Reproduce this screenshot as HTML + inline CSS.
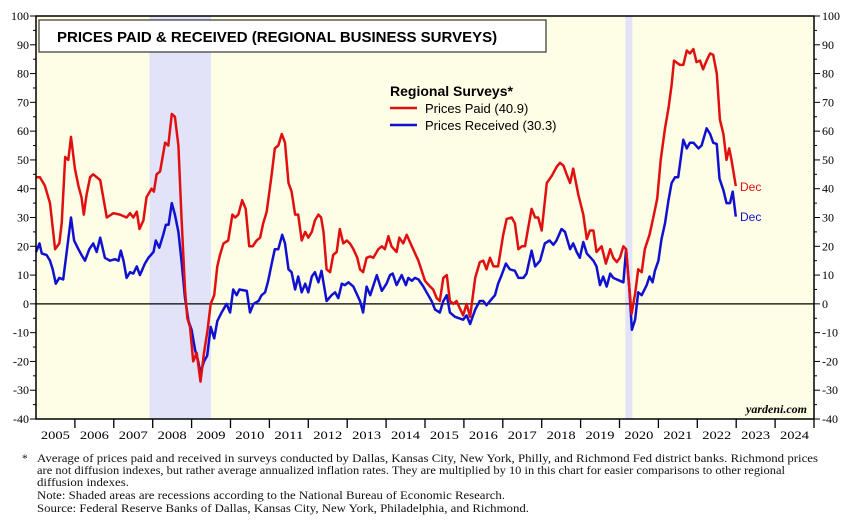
<!DOCTYPE html>
<html><head><meta charset="utf-8"><style>
body{margin:0;background:#fff;}
svg{display:block;}
</style></head><body>
<svg id="chart" width="861" height="525" viewBox="0 0 861 525" xmlns="http://www.w3.org/2000/svg">
<rect x="36" y="16" width="778" height="403" fill="#fefde6"/>
<g id="shades"></g>
<g id="grid"></g>
<g id="series"></g>
<rect x="36" y="16" width="778" height="403" fill="none" stroke="#000" stroke-width="1.5"/>
<g>
<rect x="39" y="20" width="507" height="32" fill="#fff" stroke="#333" stroke-width="1.2"/>
<text x="57" y="42" font-family="Liberation Sans, sans-serif" font-weight="bold" font-size="15">PRICES PAID &amp; RECEIVED (REGIONAL BUSINESS SURVEYS)</text>
</g>
<g font-family="Liberation Sans, sans-serif">
<text x="390" y="96" font-weight="bold" font-size="14">Regional Surveys*</text>
<line x1="390" y1="108" x2="417" y2="108" stroke="#e01010" stroke-width="2.5"/>
<text x="425" y="113" font-size="13">Prices Paid (40.9)</text>
<line x1="390" y1="125" x2="417" y2="125" stroke="#1010d0" stroke-width="2.5"/>
<text x="425" y="130" font-size="13">Prices Received (30.3)</text>
</g>
<text x="740" y="191" font-family="Liberation Sans, sans-serif" font-size="12" fill="#e01010">Dec</text>
<text x="740" y="221" font-family="Liberation Sans, sans-serif" font-size="12" fill="#1010d0">Dec</text>
<text x="807" y="413" text-anchor="end" font-family="Liberation Serif, serif" font-style="italic" font-weight="bold" font-size="12">yardeni.com</text>
<g font-family="Liberation Serif, serif" font-size="11.5" fill="#111">
<text x="22" y="462">*</text>
<text x="37" y="462" textLength="781" lengthAdjust="spacingAndGlyphs">Average of prices paid and received in surveys conducted by Dallas, Kansas City, New York, Philly, and Richmond Fed district banks. Richmond prices</text>
<text x="37" y="474" textLength="748" lengthAdjust="spacingAndGlyphs">are not diffusion indexes, but rather average annualized inflation rates. They are multiplied by 10 in this chart for easier comparisons to other regional</text>
<text x="37" y="486" textLength="92" lengthAdjust="spacingAndGlyphs">diffusion indexes.</text>
<text x="37" y="499" textLength="468" lengthAdjust="spacingAndGlyphs">Note: Shaded areas are recessions according to the National Bureau of Economic Research.</text>
<text x="37" y="512" textLength="492" lengthAdjust="spacingAndGlyphs">Source: Federal Reserve Banks of Dallas, Kansas City, New York, Philadelphia, and Richmond.</text>
</g>
</svg>
<script>
const yTicks=[100,90,80,70,60,50,40,30,20,10,0,-10,-20,-30,-40];
const years=[2005,2006,2007,2008,2009,2010,2011,2012,2013,2014,2015,2016,2017,2018,2019,2020,2021,2022,2023,2024];
const recessions=[[2007.92,2009.5],[2020.15,2020.33]];
const paidDates=[2005.00,2005.10,2005.23,2005.36,2005.49,2005.60,2005.66,2005.75,2005.83,2005.90,2006.00,2006.09,2006.17,2006.23,2006.30,2006.39,2006.47,2006.65,2006.82,2006.99,2007.16,2007.33,2007.42,2007.50,2007.59,2007.66,2007.76,2007.84,2007.97,2008.03,2008.10,2008.19,2008.32,2008.40,2008.49,2008.57,2008.66,2008.74,2008.83,2008.89,2008.96,2009.04,2009.13,2009.23,2009.32,2009.40,2009.49,2009.58,2009.66,2009.73,2009.82,2009.94,2010.05,2010.12,2010.20,2010.30,2010.39,2010.48,2010.57,2010.67,2010.76,2010.84,2010.93,2011.06,2011.14,2011.23,2011.32,2011.40,2011.49,2011.57,2011.66,2011.74,2011.83,2011.92,2012.00,2012.09,2012.17,2012.26,2012.33,2012.39,2012.47,2012.56,2012.64,2012.73,2012.81,2012.90,2012.99,2013.07,2013.16,2013.26,2013.33,2013.41,2013.50,2013.59,2013.67,2013.80,2013.89,2013.97,2014.06,2014.14,2014.27,2014.34,2014.44,2014.53,2014.66,2014.83,2015.00,2015.13,2015.21,2015.30,2015.38,2015.47,2015.56,2015.64,2015.73,2015.81,2015.98,2016.07,2016.16,2016.29,2016.41,2016.50,2016.58,2016.67,2016.76,2016.88,2017.01,2017.10,2017.23,2017.31,2017.40,2017.49,2017.57,2017.66,2017.74,2017.83,2017.91,2018.00,2018.13,2018.26,2018.38,2018.47,2018.56,2018.64,2018.73,2018.81,2018.94,2019.07,2019.16,2019.24,2019.33,2019.41,2019.54,2019.65,2019.76,2019.84,2019.93,2020.01,2020.10,2020.17,2020.23,2020.31,2020.40,2020.48,2020.57,2020.65,2020.77,2020.87,2020.97,2021.06,2021.17,2021.26,2021.34,2021.40,2021.55,2021.64,2021.73,2021.81,2021.90,2021.98,2022.07,2022.15,2022.24,2022.33,2022.41,2022.50,2022.58,2022.67,2022.75,2022.82,2022.88,2022.99];
const paidValues=[44,44,41,35,19,21,28,51,50,58,47,41,37,31,38,44,45,43,30,31.5,31,30,31.5,30,32,26,29,37,40,39,45,46,56,55,66,65,55,30,5,-5,-8,-20,-17,-27,-17,-10,0,3,13,17,21,22,31,30,31,36,33,20,20,22,23,28,32,45,54,55,59,56,42,39,31,31,22,25,23,25,29,31,30,25,12,11,17,18,26,21,22,21,19,16,12,11,16,16.5,16,19,20,19,23.5,20,18,23,21,24,20,15,8,6,5,2,1,9,10,1,0,1,-4,0,-4.5,9,14.5,15,12,16,13,13,24,29.5,30,28,19,20,20,27,33,30,30,25.5,42,44.5,47.5,49,48,45,42,47,38,31,22.5,25.5,25.5,18,20,14,19,16,14.5,16,20,19,9,-3.5,3.5,12,11,19,24,30,36.5,50,61,68,76,84.5,83,83,88,87,88.5,84,84.5,81.5,84.5,87,86.5,80,64,59,50,54,50,40.9];
const recvDates=[2005.00,2005.09,2005.15,2005.27,2005.36,2005.43,2005.51,2005.60,2005.70,2005.79,2005.90,2005.98,2006.09,2006.17,2006.26,2006.37,2006.47,2006.56,2006.65,2006.77,2006.90,2007.03,2007.12,2007.18,2007.25,2007.33,2007.42,2007.50,2007.59,2007.67,2007.80,2007.89,2008.02,2008.08,2008.17,2008.27,2008.34,2008.41,2008.49,2008.57,2008.66,2008.74,2008.83,2008.92,2009.00,2009.09,2009.17,2009.23,2009.32,2009.40,2009.49,2009.58,2009.66,2009.77,2009.90,2009.99,2010.07,2010.16,2010.23,2010.42,2010.50,2010.59,2010.72,2010.80,2010.89,2010.97,2011.06,2011.14,2011.23,2011.33,2011.40,2011.49,2011.57,2011.66,2011.74,2011.83,2011.92,2012.00,2012.09,2012.17,2012.26,2012.34,2012.47,2012.60,2012.69,2012.77,2012.86,2012.94,2013.03,2013.16,2013.33,2013.41,2013.50,2013.59,2013.76,2013.89,2014.01,2014.10,2014.17,2014.27,2014.40,2014.51,2014.57,2014.66,2014.74,2014.83,2014.96,2015.04,2015.17,2015.26,2015.38,2015.47,2015.56,2015.64,2015.77,2015.98,2016.07,2016.16,2016.29,2016.41,2016.50,2016.58,2016.67,2016.80,2016.88,2016.97,2017.08,2017.18,2017.31,2017.40,2017.53,2017.61,2017.74,2017.83,2017.96,2018.08,2018.20,2018.30,2018.38,2018.51,2018.60,2018.73,2018.81,2018.90,2018.98,2019.07,2019.16,2019.33,2019.41,2019.50,2019.58,2019.67,2019.76,2019.84,2020.01,2020.10,2020.17,2020.25,2020.32,2020.40,2020.48,2020.57,2020.70,2020.77,2020.85,2020.91,2021.00,2021.08,2021.17,2021.26,2021.34,2021.43,2021.51,2021.64,2021.73,2021.81,2021.90,2022.03,2022.11,2022.24,2022.33,2022.41,2022.50,2022.57,2022.67,2022.75,2022.84,2022.91,2022.99];
const recvValues=[18,21,17.5,17,15,12,7,9,8.5,18,30,22,19,17,15,19,21,18,23,16,15,15.5,15,18.5,15,9,11,10.5,13,10,14,16,18,22,19.5,24,27.5,27.5,35,31,25,15,2,-6,-9,-16,-20,-24,-20,-18,-8,-12,-6,-3,0,-3,5,3,5,4.5,-3,0,1,3,4,8,14,19,19,24,21,12,11,5,9.5,4,7,4,9.5,11,7.5,11.5,1,3,4,2,7,6.5,7.5,6,1,-3,6,3,10,4.5,7,10,10.5,6.5,10,6.5,9,8,9,8.5,6,4,1,-2,-3,1,3,-3,-4.5,-5.5,-4,-7,-2,1,1,-0.5,1,3,7,10,14,12,11.5,9,9,10.5,18.5,13,15,21,22,20.5,22,26,25,19,21,18,16,21.5,17.5,15,13,6.5,9.5,6,10.5,9,8,7.5,19,6,-9,-5.5,4,3,6.5,9.5,7.5,11.5,15,22.5,28,36,42,44,44,57,54,56,56,54,55,61,59,56,55.5,43.5,39.5,35,35,39,30.3];

const NS='http://www.w3.org/2000/svg';
const X0=36,X1=814,Y0=16,Y1=419;
const xScale=t=>X0+(t-2005)/20*(X1-X0);
const yScale=v=>Y0+(100-v)/140*(Y1-Y0);
function mk(tag,attrs,parent){const e=document.createElementNS(NS,tag);for(const k in attrs)e.setAttribute(k,attrs[k]);parent.appendChild(e);return e;}
const svg=document.getElementById('chart');
const shades=document.getElementById('shades'),grid=document.getElementById('grid'),series=document.getElementById('series');
recessions.forEach(r=>{
  const e=mk('rect',{x:xScale(r[0]),y:Y0,width:xScale(r[1])-xScale(r[0]),height:Y1-Y0,fill:'#e2e3f8'},shades);
  
  
});
const zl=mk('line',{x1:X0,x2:X1,y1:yScale(0),y2:yScale(0),stroke:'#000','stroke-width':1.3},grid);


yTicks.forEach(v=>{
  const y=yScale(v);
  mk('line',{x1:X0-6,x2:X0,y1:y,y2:y,stroke:'#000'},grid);
  mk('line',{x1:X1,x2:X1+6,y1:y,y2:y,stroke:'#000'},grid);
  if(v>-40){const ym=yScale(v-5);mk('line',{x1:X0-3,x2:X0,y1:ym,y2:ym,stroke:'#000'},grid);mk('line',{x1:X1,x2:X1+3,y1:ym,y2:ym,stroke:'#000'},grid);}
  const l=mk('text',{x:X0-7,y:y+4,'text-anchor':'end','font-family':'Liberation Serif, serif','font-size':12},grid);l.textContent=v;
  
  
  const r=mk('text',{x:X1+8,y:y+4,'font-family':'Liberation Serif, serif','font-size':12},grid);r.textContent=v;
  
  
});
years.forEach(yr=>{
  const x=xScale(yr);
  if(yr>2005)mk('line',{x1:x,x2:x,y1:Y1,y2:Y1+9,stroke:'#000','stroke-width':1.3},grid);
  const t=mk('text',{x:xScale(yr+0.5),y:439,'text-anchor':'middle','font-family':'Liberation Serif, serif','font-size':12,textLength:29,lengthAdjust:'spacingAndGlyphs'},grid);t.textContent=yr;
  
  
});
mk('line',{x1:X1,x2:X1,y1:Y1,y2:Y1+9,stroke:'#000','stroke-width':1.3},grid);
function line(d,v,color,name){
  const pts=d.map((t,i)=>xScale(t).toFixed(1)+','+yScale(v[i]).toFixed(1)).join(' ');
  const p=mk('polyline',{points:pts,fill:'none',stroke:color,'stroke-width':2.5,'stroke-linejoin':'round'},series);
  
  
}
line(recvDates,recvValues,'#1010d0','prices-received-line');
line(paidDates,paidValues,'#e01010','prices-paid-line');
</script>
</body></html>
